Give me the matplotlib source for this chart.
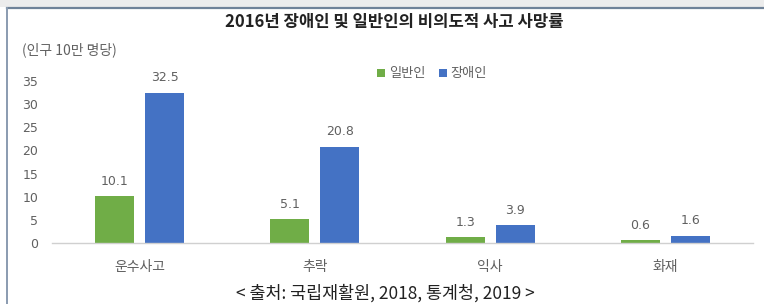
import matplotlib
matplotlib.use("Agg")
import matplotlib.pyplot as plt
from matplotlib.patches import Rectangle
from matplotlib.lines import Line2D
import numpy as np

plt.rcParams['font.family'] = ['Noto Sans CJK KR', 'DejaVu Sans']

categories = ['운수사고', '추락', '익사', '화재']
general = [10.1, 5.1, 1.3, 0.6]
disabled = [32.5, 20.8, 3.9, 1.6]
series_names = ['일반인', '장애인']
yticks = [0, 5, 10, 15, 20, 25, 30, 35]

green = '#70AD47'
blue = '#4472C4'
gray = '#606060'

fig = plt.figure(figsize=(7.64, 3.04), dpi=100)
fig.patch.set_facecolor('white')

# outer frame (top and left border lines)
fig.add_artist(Rectangle((0, 1 - 7/304), 1, 7/304, transform=fig.transFigure,
                         facecolor='#ececec', edgecolor='none', zorder=0))
fig.add_artist(Line2D([7/764, 1], [1 - 8/304, 1 - 8/304], transform=fig.transFigure,
                      color='#6f8298', lw=1.6))
fig.add_artist(Line2D([7/764, 7/764], [0, 1 - 8/304], transform=fig.transFigure,
                      color='#8a9bb0', lw=1.4))

ax = fig.add_axes([52/764, 61/304, (753-52)/764, (243-81)/304])
x = np.arange(len(categories))
w = 0.223
off = 0.143
b1 = ax.bar(x - off, general, w, color=green, label=series_names[0], zorder=2)
b2 = ax.bar(x + off, disabled, w, color=blue, label=series_names[1], zorder=2)

for rects, vals in ((b1, general), (b2, disabled)):
    for r, v in zip(rects, vals):
        ax.annotate(f'{v}', (r.get_x() + r.get_width()/2, v), xytext=(0, 6),
                    textcoords='offset points', ha='center', va='bottom',
                    fontsize=9, color=gray, family='DejaVu Sans')

ax.set_xlim(-0.5, len(categories) - 0.5)
ax.set_ylim(0, 35)
ax.set_yticks(yticks)
ax.set_yticklabels([str(t) for t in yticks], family='DejaVu Sans')
ax.set_xticks(x)
ax.set_xticklabels(categories)
ax.tick_params(axis='y', length=0, labelsize=9, labelcolor=gray, pad=10)
ax.tick_params(axis='x', length=0, labelsize=10, labelcolor=gray, pad=12)
for s in ['top', 'right', 'left']:
    ax.spines[s].set_visible(False)
ax.spines['bottom'].set_color('#d0d0d0')
ax.spines['bottom'].set_linewidth(1)
ax.set_facecolor('none')

leg = fig.legend(handles=[b1, b2], labels=series_names, loc='center',
                 bbox_to_anchor=(432/764, 1 - 74/304), ncol=2, frameon=False,
                 fontsize=9.5, handlelength=0.6, handleheight=0.6,
                 handletextpad=0.3, columnspacing=1.0)
for t in leg.get_texts():
    t.set_color(gray)

fig.text(394/764, 1 - 22/304, '2016년 장애인 및 일반인의 비의도적 사고 사망률',
         ha='center', va='center', fontsize=12, fontweight='bold', color='#222222')
fig.text(22/764, 1 - 50/304, '(인구 10만 명당)', ha='left', va='center',
         fontsize=10, color=gray)
fig.text(385/764, 1 - 293/304, '< 출처: 국립재활원, 2018, 통계청, 2019 >',
         ha='center', va='center', fontsize=12.5, color='#222222')

fig.savefig('out.png', dpi=100)
